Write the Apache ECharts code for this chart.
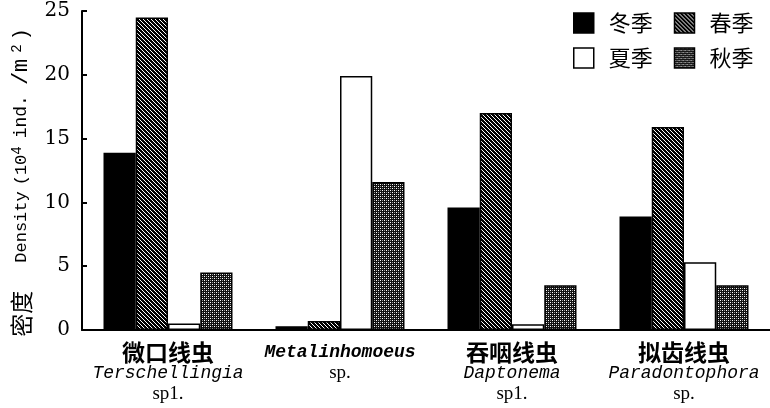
<!DOCTYPE html>
<html>
<head>
<meta charset="utf-8">
<script src="https://cdn.jsdelivr.net/npm/echarts@6/dist/echarts.min.js"></script>
<style>html,body{margin:0;padding:0;background:#fff;}#c{width:770px;height:408px;}</style>
</head>
<body>
<div id="c"></div>
<script>
const cnNames = ['微口线虫', '', '吞咽线虫', '拟齿线虫'];
const genusNames = ['Terschellingia', 'Metalinhomoeus', 'Daptonema', 'Paradontophora'];
const suffixes = ['sp1.', 'sp.', 'sp1.', 'sp.'];
const seriesNames = ['冬季', '春季', '夏季', '秋季'];
const winter = [13.9, 0.3, 9.6, 8.9];
const spring = [24.5, 0.7, 17.0, 15.9];
const summer = [0.5, 19.9, 0.45, 5.3];
const autumn = [4.5, 11.6, 3.5, 3.5];
const yTicks = [0, 5, 10, 15, 20, 25];

function hatchCanvas() {
  const c = document.createElement('canvas');
  c.width = 4; c.height = 4;
  const g = c.getContext('2d');
  g.fillStyle = '#000'; g.fillRect(0, 0, 4, 4);
  g.strokeStyle = '#fff'; g.lineWidth = 1.0;
  [[-1,-1,5,5],[-1,3,1,5],[3,-1,5,1]].forEach(l => {
    g.beginPath(); g.moveTo(l[0], l[1]); g.lineTo(l[2], l[3]); g.stroke();
  });
  return c;
}
function dotCanvas() {
  const c = document.createElement('canvas');
  c.width = 4; c.height = 4;
  const g = c.getContext('2d');
  g.fillStyle = '#111'; g.fillRect(0, 0, 4, 4);
  g.fillStyle = '#fff';
  g.fillRect(0, 0, 1, 1); g.fillRect(2, 2, 1, 1);
  g.fillStyle = '#999';
  g.fillRect(2, 0, 1, 1); g.fillRect(0, 2, 1, 1);
  return c;
}

const fills = [
  '#000',
  { image: hatchCanvas(), repeat: 'repeat' },
  '#fff',
  { image: dotCanvas(), repeat: 'repeat' }
];
const values = [winter, spring, summer, autumn];

const legendBase = {
  orient: 'horizontal', left: 573, padding: 0,
  itemWidth: 20, itemHeight: 20, itemGap: 21, icon: 'rect', selectedMode: false,
  itemStyle: { borderColor: '#000', borderWidth: 1.5 },
  textStyle: { fontSize: 22, fontFamily: 'Noto Sans CJK SC', color: '#000', padding: [0, 0, 0, 10] }
};

const chart = echarts.init(document.getElementById('c'));
chart.setOption({
  animation: false,
  backgroundColor: '#fff',
  grid: { left: 82, right: 0, top: 11, bottom: 78, containLabel: false, outerBoundsMode: 'none' },
  legend: [
    Object.assign({}, legendBase, { data: [seriesNames[0], seriesNames[1]], top: 12 }),
    Object.assign({}, legendBase, { data: [seriesNames[2], seriesNames[3]], top: 47 })
  ],
  xAxis: {
    type: 'category',
    data: genusNames,
    axisLine: { lineStyle: { color: '#000', width: 2 } },
    axisTick: { show: false },
    axisLabel: {
      margin: 12,
      interval: 0,
      formatter: function (v, i) {
        if (cnNames[i]) return '{cn|' + cnNames[i] + '}\n{lat|' + genusNames[i] + '}\n{sp|' + suffixes[i] + '}';
        return '{latb|' + genusNames[i] + '}\n{sp|' + suffixes[i] + '}';
      },
      rich: {
        cn: { fontSize: 23, fontFamily: 'Noto Sans CJK SC', fontWeight: 'bold', color: '#000', lineHeight: 21 },
        lat: { fontSize: 18, fontFamily: 'Liberation Mono', fontStyle: 'italic', color: '#000', lineHeight: 21 },
        latb: { fontSize: 18, fontFamily: 'Liberation Mono', fontStyle: 'italic', fontWeight: 'bold', color: '#000', lineHeight: 21 },
        sp: { fontSize: 19, fontFamily: 'Liberation Serif', color: '#000', lineHeight: 21 }
      }
    }
  },
  yAxis: {
    type: 'value',
    min: yTicks[0], max: yTicks[yTicks.length - 1], interval: 5,
    name: '{cn|密度}{d|Density}{t|(10}{sup|4}{t2|ind.}{m|/m}{sup2|2}{end|)}',
    nameLocation: 'middle',
    nameGap: 49,
    nameTextStyle: {
      rich: {
        cn: { fontSize: 23, fontFamily: 'Noto Sans CJK SC', color: '#000' },
        d: { fontSize: 17, fontFamily: 'Liberation Mono', color: '#000', padding: [0, 0, 0, 28] },
        t: { fontSize: 17, fontFamily: 'Liberation Mono', color: '#000', padding: [0, 0, 0, 6] },
        sup: { fontSize: 14, fontFamily: 'Liberation Mono', color: '#000', verticalAlign: 'top', padding: [0, 0, 6, 0] },
        t2: { fontSize: 18, fontFamily: 'Liberation Mono', color: '#000', padding: [0, 0, 0, 8] },
        m: { fontSize: 22, fontFamily: 'Liberation Mono', color: '#000', padding: [0, 6, 0, 10] },
        sup2: { fontSize: 14, fontFamily: 'Liberation Mono', color: '#000', verticalAlign: 'top', padding: [0, 0, 6, 0] },
        end: { fontSize: 20, fontFamily: 'Liberation Mono', color: '#000', padding: [0, 24, 0, 4] }
      }
    },
    axisLine: { show: true, lineStyle: { color: '#000', width: 2 } },
    axisTick: { show: true, inside: true, length: 5, lineStyle: { color: '#000', width: 2 } },
    splitLine: { show: false },
    axisLabel: { fontSize: 20, fontFamily: 'DejaVu Serif', color: '#000', margin: 12 }
  },
  series: seriesNames.map((n, k) => ({
    name: n,
    type: 'bar',
    data: values[k],
    barGap: '0%',
    barCategoryGap: '25%',
    itemStyle: { color: fills[k], borderColor: '#000', borderWidth: 1.5 }
  }))
});
</script>
</body>
</html>
